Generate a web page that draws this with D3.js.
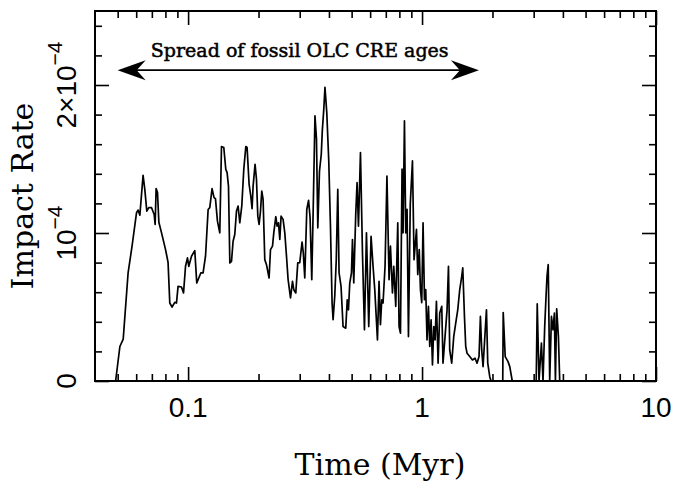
<!DOCTYPE html>
<html><head><meta charset="utf-8">
<script src="https://cdn.jsdelivr.net/npm/d3@7"></script>
<style>body{margin:0;background:#fff}svg{display:block}</style>
</head><body>
<svg id="c" width="675" height="481"></svg>
<script>
// Time in Myr (log axis)
const timeMyr = [0.049,0.0511,0.0528,0.0554,0.0576,0.0602,0.0611,0.0622,0.0642,0.0653,0.0666,0.0679,0.0698,0.0716,0.0723,0.0730,0.0740,0.0750,0.0770,0.0801,0.0821,0.0835,0.0854,0.0877,0.0892,0.0906,0.0937,0.0956,0.0975,0.0994,
0.1007,0.1034,0.1068,0.1089,0.1111,0.1133,0.1159,0.1187,0.1218,0.1238,0.1266,0.1291,0.1309,0.1335,0.1366,0.1389,0.1421,0.1449,0.1468,0.1488,0.1508,0.1533,0.1557,0.1583,0.1610,0.1636,0.1663,0.1696,0.1730,0.1765,
0.1787,0.1823,0.1853,0.1877,0.1896,0.1933,0.1960,0.1986,0.2011,0.2039,0.2065,0.2092,0.2127,0.2163,0.2219,0.2250,0.2295,0.2324,0.2371,0.2401,0.2434,0.2466,0.2497,0.2547,0.2590,0.2634,0.2676,0.2740,0.2794,0.2830,
0.2886,0.2943,0.3001,0.3070,0.3107,0.3153,0.3216,0.3273,0.3322,0.3378,0.3432,0.3486,0.3538,0.3584,0.3644,0.3709,0.3746,0.3802,0.3846,0.3915,0.3993,0.4060,0.4125,0.4166,0.4236,0.4299,0.4363,0.4419,0.4506,0.4596,
0.4719,0.4789,0.4847,0.4909,0.4992,0.5042,0.5107,0.5209,0.5275,0.5348,0.5455,0.5563,0.5673,0.5786,0.5918,0.6054,0.6174,0.6279,0.6447,0.6549,0.6640,0.6726,0.6812,0.6948,0.7079,0.7228,0.7328,0.7473,0.7570,0.7720,
0.7874,0.7975,0.8086,0.8213,0.8295,0.8410,0.8518,0.8628,0.8748,0.8905,0.9099,0.9243,0.9465,0.9585,0.9728,0.9844,0.9970,1.010,1.024,1.037,1.050,1.065,1.079,1.093,1.108,1.122,1.137,1.152,1.171,1.190,
1.214,1.229,1.254,1.279,1.297,1.313,1.339,1.366,1.393,1.421,1.449,1.478,1.493,1.518,1.537,1.557,1.599,1.642,1.685,1.718,1.752,1.776,1.799,1.823,1.859,1.885,1.909,1.947,1.972,2.213,
2.223,2.267,2.331,2.371,2.430,3.076,3.107,3.162,3.238,3.289,3.344,3.388,3.421,3.462,3.513,3.573,3.629,3.679,3.716,3.763,3.827,3.877];

// Impact rate, in units of 1e-4
const impactRate = [0,0.233,0.283,0.730,0.911,1.137,1.155,1.121,1.390,1.295,1.148,1.171,1.171,1.125,1.058,1.300,1.273,1.073,1.001,0.888,0.802,0.527,0.500,0.531,0.527,0.639,0.635,0.595,0.775,0.832,
0.775,0.843,0.881,0.662,0.696,0.730,0.730,0.843,1.159,1.171,1.300,1.239,1.232,1.080,1.001,1.584,1.578,1.431,1.408,1.317,0.798,0.809,0.944,0.990,1.148,1.182,1.069,1.182,1.431,1.584,
1.578,1.329,1.250,1.164,1.317,1.464,1.363,1.114,1.058,1.148,1.283,1.227,0.820,0.786,0.696,0.888,0.911,1.001,1.110,1.046,1.069,0.956,1.114,1.092,1.001,0.843,0.685,0.561,0.673,0.617,
0.595,0.798,0.800,0.939,0.868,0.696,1.159,1.220,1.105,0.685,1.227,1.792,1.634,1.035,1.417,1.532,1.688,1.837,1.984,1.815,1.485,1.046,0.527,0.414,0.576,0.820,1.295,0.730,0.639,0.368,
0.357,0.549,0.481,0.662,0.730,0.956,0.662,1.137,1.340,1.046,1.544,0.866,0.346,1.001,0.368,0.978,0.775,0.617,0.278,0.673,0.380,0.549,0.527,0.775,1.385,0.685,0.911,0.595,0.775,0.504,
1.069,0.368,0.323,1.431,1.001,1.758,1.001,1.159,0.300,1.193,1.487,0.820,1.024,0.719,0.888,0.617,0.529,1.069,0.549,0.617,0.278,0.504,0.233,0.414,0.108,0.368,0.278,0.538,0.120,0.459,
0.504,0.120,0.300,0.481,0.775,0.210,0.120,0.300,0.391,0.481,0.617,0.707,0.764,0.436,0.233,0.188,0.165,0.142,0.154,0.120,0.165,0.436,0.210,0.097,0.323,0.481,0.120,0.029,0,0,
0.463,0.165,0.131,0.097,0,0,0.522,0,0.256,0,0.368,0.572,0.707,0.786,0,0.436,0.346,0.459,0,0.488,0.300,0];

const xDomain = [0.04, 10];
const yDomain = [0, 2.5];            // units of 1e-4
const xMajorTicks = [0.1, 1, 10];
const xTickLabels = ["0.1", "1", "10"];
const xMinorTicks = [0.05,0.06,0.07,0.08,0.09,0.2,0.3,0.4,0.5,0.6,0.7,0.8,0.9,2,3,4,5,6,7,8,9];
const yMajorTicks = [0, 1, 2];
const yTickBase = ["0", "10", "2\u00d710"];
const yTickSup  = ["", "\u22124", "\u22124"];
const yMinorTicks = [0.2,0.4,0.6,0.8,1.2,1.4,1.6,1.8,2.2,2.4];
const xTitle = "Time (Myr)";
const yTitle = "Impact Rate";
const annotationText = "Spread of fossil OLC CRE ages";
const annotationSpan = [0.05, 1.75];
const annotationLevel = 2.1;
const annotationTextAt = [0.3, 2.19];

const svg = d3.select("#c");
const L = 95, R = 656, T = 11, B = 381;
const x = d3.scaleLog().domain(xDomain).range([L, R]);
const y = d3.scaleLinear().domain(yDomain).range([B, T]);

const data = timeMyr.map((t, i) => ({t, r: impactRate[i]}));

// curve
svg.append("path").datum(data)
  .attr("fill", "none").attr("stroke", "#000").attr("stroke-width", 1.7)
  .attr("stroke-linejoin", "round")
  .attr("d", d3.line().x(d => x(d.t)).y(d => y(d.r)));

// ticks via axes (inward)
function axisTicks(gen, vals, size, transform) {
  const g = svg.append("g").attr("transform", transform)
    .call(gen.tickValues(vals).tickSize(size).tickFormat(""));
  g.select(".domain").remove();
  g.selectAll("line").attr("stroke", "#000").attr("stroke-width", 1.6);
}
const maj = 14, mnr = 7;
axisTicks(d3.axisBottom(x), xMajorTicks, -maj, `translate(0,${B})`);
axisTicks(d3.axisBottom(x), xMinorTicks, -mnr, `translate(0,${B})`);
axisTicks(d3.axisTop(x), xMajorTicks, -maj, `translate(0,${T})`);
axisTicks(d3.axisTop(x), xMinorTicks, -mnr, `translate(0,${T})`);
axisTicks(d3.axisLeft(y), yMajorTicks, -maj, `translate(${L},0)`);
axisTicks(d3.axisLeft(y), yMinorTicks, -mnr, `translate(${L},0)`);
axisTicks(d3.axisRight(y), yMajorTicks, -maj, `translate(${R},0)`);
axisTicks(d3.axisRight(y), yMinorTicks, -mnr, `translate(${R},0)`);

// frame
svg.append("rect").attr("x", L).attr("y", T).attr("width", R - L).attr("height", B - T)
  .attr("fill", "none").attr("stroke", "#000").attr("stroke-width", 2);

// x tick labels
const tickFont = "'Liberation Sans', Arial, sans-serif";
svg.append("g").selectAll("text").data(xMajorTicks).join("text")
  .attr("x", d => x(d)).attr("y", 417)
  .attr("text-anchor", "middle")
  .attr("font-family", tickFont).attr("font-size", 28)
  .text((d, i) => xTickLabels[i]);

// y tick labels (rotated)
yMajorTicks.forEach((v, i) => {
  const t = svg.append("text")
    .attr("transform", `translate(76,${y(v)}) rotate(-90)`)
    .attr("text-anchor", "middle")
    .attr("font-family", tickFont).attr("font-size", 28);
  t.append("tspan").text(yTickBase[i]);
  if (yTickSup[i]) t.append("tspan").attr("dy", -14).attr("font-size", 21).text(yTickSup[i]);
});

// axis titles
const titleFont = "'DejaVu Serif', serif";
svg.append("text").attr("x", 380).attr("y", 475).attr("text-anchor", "middle")
  .attr("font-family", titleFont).attr("font-size", 30).text(xTitle);
svg.append("text").attr("transform", `translate(33,${(T + B) / 2}) rotate(-90)`)
  .attr("text-anchor", "middle")
  .attr("font-family", titleFont).attr("font-size", 30).text(yTitle);

// annotation arrow
const ay = y(annotationLevel), ax0 = x(annotationSpan[0]), ax1 = x(annotationSpan[1]);
svg.append("line").attr("x1", ax0 + 10).attr("x2", ax1 - 10).attr("y1", ay).attr("y2", ay)
  .attr("stroke", "#000").attr("stroke-width", 1.8);
const head = (tx, dir) => `M${tx},${ay} L${tx + dir*28},${ay - 10} L${tx + dir*19},${ay} L${tx + dir*28},${ay + 10} Z`;
svg.append("path").attr("d", head(ax0, 1)).attr("fill", "#000");
svg.append("path").attr("d", head(ax1, -1)).attr("fill", "#000");
svg.append("text").attr("x", x(annotationTextAt[0])).attr("y", y(annotationTextAt[1]))
  .attr("text-anchor", "middle").attr("font-family", titleFont)
  .attr("stroke", "#000").attr("stroke-width", 0.5)
  .attr("font-size", 19).text(annotationText);
</script>
</body></html>
